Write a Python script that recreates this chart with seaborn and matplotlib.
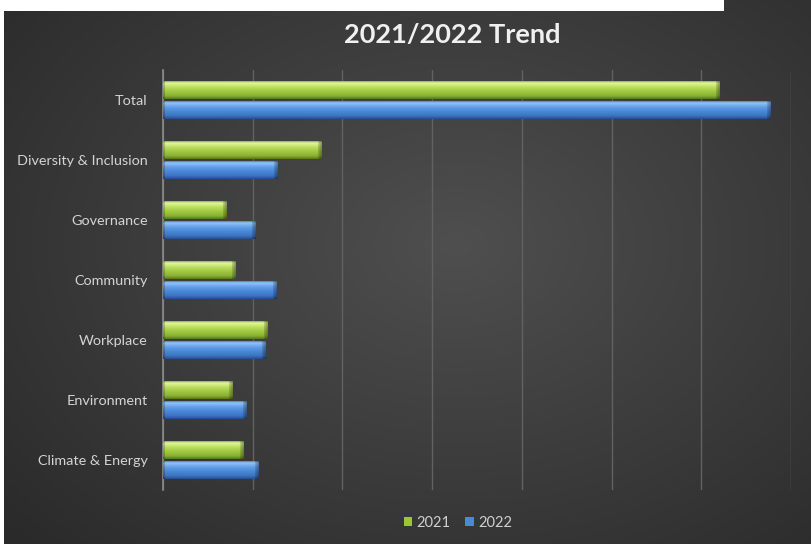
import numpy as np
import pandas as pd
import matplotlib
matplotlib.use("Agg")
import matplotlib.pyplot as plt
import seaborn as sns
from matplotlib.patches import Rectangle, Patch
from matplotlib.colors import to_rgb

categories = ["Total", "Diversity & Inclusion", "Governance", "Community",
              "Workplace", "Environment", "Climate & Energy"]
values_2021 = [62.0, 17.7, 7.1, 8.1, 11.6, 7.7, 9.0]
values_2022 = [67.7, 12.8, 10.3, 12.6, 11.4, 9.3, 10.6]
years = ["2021", "2022"]

df = pd.DataFrame({
    "Category": categories * 2,
    "Year": [years[0]] * len(categories) + [years[1]] * len(categories),
    "Value": values_2021 + values_2022,
})

GREEN = "#9cc43c"
BLUE = "#4a88d8"

sns.set_theme(style="dark")
plt.rcParams['font.family'] = ['Lato', 'DejaVu Sans']

W, H = 811, 544
fig = plt.figure(figsize=(W / 100, H / 100), dpi=100)
fig.patch.set_facecolor("white")

# background with radial gradient
bg = fig.add_axes([4 / W, 0, 1 - 4 / W, 1])
bg.set_axis_off()
yy, xx = np.mgrid[0:1:300j, 0:1:400j]
r = np.sqrt(((xx - 0.56) / 0.75) ** 2 + ((yy - 0.45) / 0.8) ** 2)
r = np.clip(r, 0, 1)
c_in = np.array(to_rgb("#4f4f4f"))
c_out = np.array(to_rgb("#2a2a2a"))
img = c_in[None, None, :] * (1 - r[..., None]) + c_out[None, None, :] * r[..., None]
bg.imshow(img, extent=[0, 1, 0, 1], aspect="auto", origin="upper")
bg.set_xlim(0, 1)
bg.set_ylim(0, 1)

# white strip at top
fig.patches.append(Rectangle((0, 1 - 11 / H), 724 / W, 11 / H, transform=fig.transFigure,
                             facecolor="white", edgecolor="none", zorder=5))

ax = fig.add_axes([163 / W, 1 - 490 / H, (791 - 163) / W, (490 - 70) / H])
ax.set_facecolor("none")
sns.barplot(data=df, y="Category", x="Value", hue="Year", orient="h",
            palette=[GREEN, BLUE], width=0.67, gap=0.06, ax=ax, legend=False,
            edgecolor="none", linewidth=0)

ax.set_xlim(0, 70)
ax.set_ylim(6.5, -0.5)
ax.set_xticks(np.arange(0, 71, 10))
ax.set_xticklabels([])
ax.tick_params(axis="x", length=0)
ax.tick_params(axis="y", length=0, labelcolor="#d4d4d4", labelsize=10.4, pad=11)
ax.grid(axis="x", color="#626262", linewidth=1)
ax.grid(axis="y", visible=False)
ax.set_axisbelow(True)
for s in ["top", "right", "bottom"]:
    ax.spines[s].set_visible(False)
ax.spines["left"].set_color("#8c8c8c")
ax.spines["left"].set_linewidth(1.2)
ax.set_xlabel("")
ax.set_ylabel("")

# bevelled gradient fill for bars
profiles = {
    "green": ["#6f8f22", "#e4f7a0", "#bfe063", "#a0c840", "#8ab232", "#5c7a1a"],
    "blue": ["#3568b0", "#95c6f7", "#62a0e8", "#4a88d8", "#3b73c2", "#27508e"],
}
stops = [0.0, 0.14, 0.35, 0.6, 0.85, 1.0]


def make_grad(name, ncols):
    cols = np.array([to_rgb(c) for c in profiles[name]])
    t = np.linspace(0, 1, 24)
    prof = np.stack([np.interp(t, stops, cols[:, k]) for k in range(3)], axis=1)
    arr = np.repeat(prof[:, None, :], ncols, axis=1)
    shade = np.ones(ncols)
    n = min(4, max(1, ncols // 6))
    shade[-n:] = np.linspace(0.85, 0.65, n)
    shade[:2] = 0.8
    return np.clip(arr * shade[None, :, None], 0, 1)


for p in list(ax.patches):
    x0, y0 = p.get_x(), p.get_y()
    w, h = p.get_width(), p.get_height()
    if w <= 0:
        continue
    fc = np.array(p.get_facecolor()[:3])
    name = "green" if np.linalg.norm(fc - np.array(to_rgb(GREEN))) < np.linalg.norm(fc - np.array(to_rgb(BLUE))) else "blue"
    ncols = max(8, int(w / 70 * 628))
    im = ax.imshow(make_grad(name, ncols), extent=[x0, x0 + w, y0 + h, y0],
                   aspect="auto", origin="upper", zorder=3, interpolation="bilinear")
    im.set_clip_path(p)
    p.set_zorder(2.5)

ax.set_xlim(0, 70)
ax.set_ylim(6.5, -0.5)

fig.text(452 / W, 1 - 35 / H, "2021/2022 Trend", ha="center", va="center",
         fontsize=19.5, fontweight="bold", color="#f0f0f0")

handles = [Patch(facecolor=GREEN, edgecolor="none", label=years[0]),
           Patch(facecolor=BLUE, edgecolor="none", label=years[1])]
fig.legend(handles=handles, loc="center", bbox_to_anchor=(458 / W, 1 - 523 / H), ncol=2,
           frameon=False, handlelength=0.6, handleheight=0.6, handletextpad=0.3,
           columnspacing=1.0, labelcolor="#d0d0d0", fontsize=10.5)

fig.savefig("out.png", dpi=100, facecolor=fig.get_facecolor())
